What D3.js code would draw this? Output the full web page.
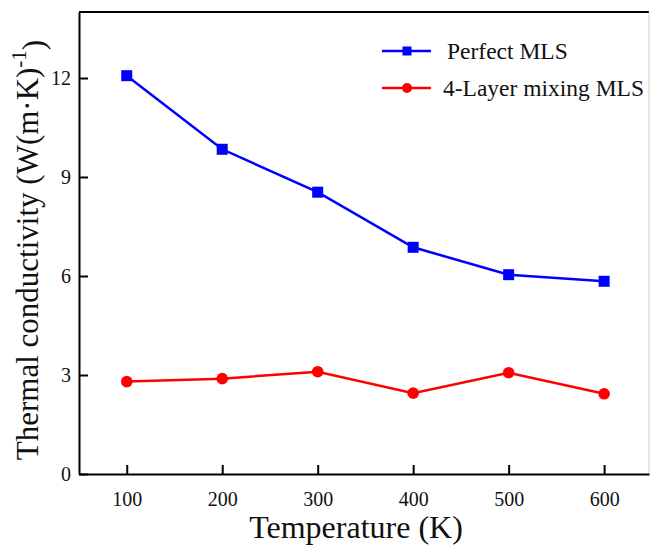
<!DOCTYPE html>
<html>
<head>
<meta charset="utf-8">
<script src="https://cdn.jsdelivr.net/npm/d3@7"></script>
<style>
  html, body { margin: 0; padding: 0; background: #fff; }
  svg text { font-family: 'Liberation Serif', 'DejaVu Serif', serif; }
</style>
</head>
<body>
<svg id="chart" width="650" height="547"></svg>
<script>
// Temperature points (K)
const temperatures = [100, 200, 300, 400, 500, 600];
// Thermal conductivity, W/(m·K)
const perfectMLS = [12.07, 9.84, 8.54, 6.87, 6.04, 5.84];
const mixingMLS = [2.80, 2.89, 3.10, 2.45, 3.07, 2.43];
const seriesNames = ["Perfect MLS", "4-Layer mixing MLS"];
const xTicks = [100, 200, 300, 400, 500, 600];
const yTicks = [0, 3, 6, 9, 12];

const serif = "'Liberation Serif', 'DejaVu Serif', serif";
const svg = d3.select("#chart");
const m = { left: 79, right: 649, top: 12, bottom: 474 };

const x = d3.scaleLinear().domain([50, 647]).range([m.left, m.right]);
const y = d3.scaleLinear().domain([0, 14]).range([m.bottom, m.top]);

// frame
svg.append("line").attr("x1", m.left).attr("x2", m.right).attr("y1", m.top).attr("y2", m.top)
  .attr("stroke", "#000").attr("stroke-width", 2);
svg.append("line").attr("x1", m.right).attr("x2", m.right).attr("y1", m.top).attr("y2", m.bottom)
  .attr("stroke", "#ccc").attr("stroke-width", 1);

// axes with inward ticks
const xAxis = svg.append("g").attr("transform", `translate(0,${m.bottom})`)
  .call(d3.axisBottom(x).tickValues(xTicks).tickSize(-9).tickPadding(18).tickSizeOuter(0));
const yAxis = svg.append("g").attr("transform", `translate(${m.left},0)`)
  .call(d3.axisLeft(y).tickValues(yTicks).tickSize(-9).tickPadding(8).tickSizeOuter(0));
[xAxis, yAxis].forEach(a => {
  a.attr("font-family", serif).attr("font-size", 20);
  a.select(".domain").attr("stroke", "#000").attr("stroke-width", 2);
  a.selectAll(".tick line").attr("stroke", "#000").attr("stroke-width", 2);
  a.selectAll(".tick text").attr("fill", "#111").attr("font-family", serif).attr("font-size", 20);
});
xAxis.selectAll(".tick text").attr("dy", "0.71em");

// axis titles
svg.append("text").attr("x", 356).attr("y", 538).attr("text-anchor", "middle")
  .attr("font-family", serif).attr("font-size", 32).attr("fill", "#111").text("Temperature (K)");

const yt = svg.append("text").attr("transform", "translate(38,250) rotate(-90)")
  .attr("text-anchor", "middle").attr("font-family", serif).attr("font-size", 31).attr("fill", "#111");
yt.append("tspan").text("Thermal conductivity (W(m·K)");
yt.append("tspan").attr("dy", "-0.55em").attr("font-size", 21).text("-1");
yt.append("tspan").attr("dy", "0.55em").text(")");

// series
const series = [
  { name: seriesNames[0], values: perfectMLS, color: "#0000ff", shape: "square" },
  { name: seriesNames[1], values: mixingMLS, color: "#ff0000", shape: "circle" }
];
const line = d3.line().x((d, i) => x(temperatures[i])).y(d => y(d));

series.forEach(s => {
  svg.append("path").datum(s.values).attr("d", line)
    .attr("fill", "none").attr("stroke", s.color).attr("stroke-width", 2.5);
  const pts = svg.append("g");
  if (s.shape === "square") {
    pts.selectAll("rect").data(s.values).join("rect")
      .attr("x", (d, i) => x(temperatures[i]) - 5.5).attr("y", d => y(d) - 5.5)
      .attr("width", 11).attr("height", 11).attr("fill", s.color);
  } else {
    pts.selectAll("circle").data(s.values).join("circle")
      .attr("cx", (d, i) => x(temperatures[i])).attr("cy", d => y(d))
      .attr("r", 5.8).attr("fill", s.color);
  }
});

// legend
const legY = [51, 88];
series.forEach((s, k) => {
  const g = svg.append("g").attr("transform", `translate(0,${legY[k]})`);
  g.append("line").attr("x1", 382).attr("x2", 431).attr("stroke", s.color).attr("stroke-width", 2.5);
  if (s.shape === "square") {
    g.append("rect").attr("x", 402.5).attr("y", -4.5).attr("width", 9).attr("height", 9).attr("fill", s.color);
  } else {
    g.append("circle").attr("cx", 407).attr("cy", 0).attr("r", 5).attr("fill", s.color);
  }
  g.append("text").attr("x", k === 0 ? 447 : 443).attr("y", 8)
    .attr("font-family", serif).attr("font-size", 23.5).attr("fill", "#111").text(s.name);
});
</script>
</body>
</html>
